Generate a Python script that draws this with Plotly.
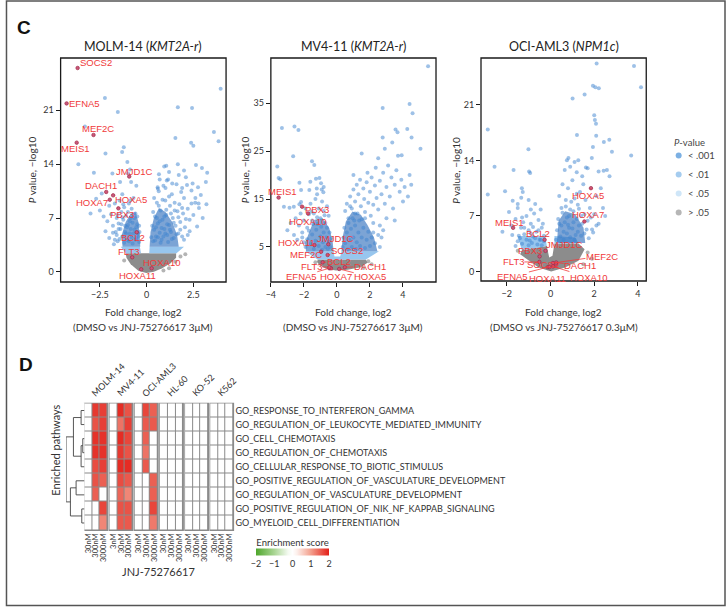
import plotly.graph_objects as go

W, H = 726, 607


def fx(p):
    return p / W


def fy(p):
    return 1 - p / H


# ---------------- C: volcano plots (log2 fold change, -log10 P) ----------------
GENES = ["SOCS2", "EFNA5", "MEF2C", "MEIS1", "JMJD1C", "DACH1", "HOXA5",
         "HOXA7", "PBX3", "BCL2", "FLT3", "HOXA10", "HOXA11"]

molm_gene_fc = [-3.69, -4.28, -2.84, -3.74, -0.93, -2.16, -1.79, -1.97, -1.51, -0.53, -0.77, 0.27, -0.29]
molm_gene_p = [26.5, 21.9, 17.8, 16.8, 12.4, 10.4, 9.96, 9.39, 8.27, 5.16, 1.91, 0.48, 0.35]
mv4_gene_fc = [-0.56, -0.46, -0.96, -3.53, -0.52, 0.48, 0.14, -0.36, -2.11, -0.86, -0.46, -1.75, -1.36]
mv4_gene_p = [3.33, 0.56, 4.0, 15.3, 5.56, 0.77, 0.42, 0.56, 13.4, 1.8, 0.77, 12.0, 5.4]
oci_gene_fc = [0.26, -0.12, 0.11, -1.71, -0.23, 0.26, 1.85, 1.55, -0.5, -0.27, -0.51, 0.11, -0.05]
oci_gene_p = [0.85, 0.55, 1.06, 5.5, 2.6, 1.13, 10.5, 6.3, 1.9, 4.0, 1.2, 0.63, 0.55]

# significant genes (fc, -log10 p)
molm_pts = [
    (3.96, 23.8), (-2.23, 22.6), (1.67, 21.4), (2.43, 21.3), (-1.54, 20.8), (-3.3, 18.9), (3.6, 18.2),
    (3.85, 17.0), (1.54, 17.4), (2.38, 16.8), (2.5, 16.4), (-1.22, 16.2), (-1.31, 15.6), (-2.2, 15.4),
    (-1.03, 14.3), (-3.65, 14.0), (-2.82, 12.9), (-1.83, 12.8), (-0.89, 13.3), (-0.99, 12.8), (-0.83, 11.7),
    (-0.55, 11.2), (-1.42, 11.7), (1.67, 14.0), (1.05, 13.8), (0.94, 13.7), (0.66, 12.7), (1.08, 11.9),
    (1.72, 12.6), (2.0, 13.2), (2.64, 13.9), (2.96, 13.5), (3.24, 12.9), (0.59, 11.0), (1.01, 10.9),
    (1.37, 11.5), (1.9, 10.9), (2.16, 11.3), (2.46, 11.5), (2.75, 11.0), (3.17, 11.7), (2.61, 9.6), (2.78, 8.9),
    (-2.5, 8.0), (-2.3, 7.2), (-2.1, 6.6), (-2.0, 8.6), (-1.9, 7.5), (-1.8, 6.0), (-1.7, 8.9), (-1.65, 5.2),
    (-1.6, 7.0), (-1.5, 6.3), (-1.45, 9.3), (-1.4, 5.6), (-1.35, 7.8), (-1.3, 4.6), (-1.25, 6.8), (-1.2, 8.4),
    (-1.15, 5.2), (-1.1, 7.3), (-1.05, 4.2), (-1.0, 6.1), (-0.95, 8.9), (-0.9, 5.0), (-0.85, 7.0), (-0.8, 4.5),
    (-0.75, 6.4), (-0.7, 9.6), (-0.65, 5.5), (-0.6, 7.6), (-0.55, 4.4), (-0.5, 6.2), (-0.45, 5.0), (-0.4, 3.9),
    (-2.7, 9.5), (-2.4, 10.2), (-3.0, 7.6), (-1.55, 4.0), (-1.75, 3.6), (-2.0, 4.4), (-2.2, 5.3), (-1.3, 10.1),
    (0.35, 4.0), (0.4, 5.5), (0.45, 7.2), (0.5, 4.6), (0.55, 9.0), (0.6, 6.3), (0.65, 10.5), (0.7, 5.1),
    (0.75, 8.0), (0.8, 4.2), (0.85, 6.8), (0.9, 11.2), (0.95, 5.6), (1.0, 9.3), (1.05, 7.4), (1.1, 4.8),
    (1.15, 12.0), (1.2, 6.1), (1.25, 8.6), (1.3, 5.2), (1.35, 10.1), (1.4, 7.0), (1.45, 4.4), (1.5, 9.0),
    (1.55, 6.0), (1.6, 11.4), (1.65, 7.9), (1.7, 5.0), (1.75, 8.8), (1.8, 6.5), (1.85, 10.4), (1.9, 4.6),
    (1.95, 7.6), (2.0, 9.6), (2.05, 5.8), (2.1, 12.3), (2.2, 8.2), (2.3, 6.8), (2.4, 10.6), (2.5, 7.4),
    (2.6, 9.0), (2.7, 5.9), (2.8, 8.3), (2.9, 10.0), (3.0, 7.0), (3.2, 8.8), (2.2, 4.8), (1.2, 13.0), (0.7, 12.0),
]
molm_dense = [
    (-1.7, 4.2), (-1.6, 4.8), (-1.5, 5.6), (-1.45, 4.3), (-1.35, 6.2), (-1.3, 7.1), (-1.2, 3.8), (-1.15, 6.0),
    (-1.1, 5.0), (-1.0, 7.8), (-0.95, 4.0), (-0.9, 6.6), (-0.85, 5.6), (-0.8, 8.2), (-0.75, 3.7), (-0.7, 5.0),
    (-0.65, 7.0), (-0.6, 4.2), (-0.55, 5.8), (-0.5, 7.2), (-0.45, 4.6), (-0.4, 6.0), (-0.38, 5.2), (-1.8, 5.1),
    (-1.55, 7.4), (-1.25, 8.8), (-0.88, 9.3), (-1.05, 5.8),
    (0.25, 4.5), (0.3, 6.0), (0.35, 7.8), (0.45, 4.1), (0.5, 5.8), (0.55, 7.0), (0.6, 4.5), (0.65, 8.6),
    (0.7, 6.6), (0.75, 3.8), (0.8, 5.7), (0.85, 9.4), (0.9, 4.6), (0.95, 7.2), (1.0, 5.0), (1.05, 8.1),
    (1.1, 6.2), (1.15, 3.9), (1.2, 9.8), (1.25, 5.5), (1.3, 7.6), (1.35, 4.3), (1.45, 6.4), (1.5, 8.0),
    (1.6, 4.9), (1.7, 7.1), (1.8, 5.5), (1.9, 8.3), (2.0, 4.2), (2.1, 6.9), (2.3, 5.3), (2.4, 8.9),
    (0.4, 9.6), (0.6, 10.8),
]
molm_ns = [(1.81, 2.0), (2.07, 2.3), (1.54, 1.34), (-1.2, 1.5), (1.2, 0.5), (0.9, 0.2)]

mv4_pts = [
    (5.52, 42.7), (2.77, 34.0), (4.40, 34.8), (4.58, 32.9), (3.55, 29.5), (3.67, 28.9), (4.26, 29.6),
    (4.52, 27.8), (2.77, 27.8), (3.35, 26.8), (5.06, 25.5), (3.92, 24.1), (-3.33, 29.8), (-2.57, 30.1),
    (-2.33, 29.4), (-1.51, 22.9), (-1.37, 22.1), (-3.61, 21.8), (-2.65, 23.9), (-3.53, 19.4), (-3.43, 19.1),
    (-2.27, 18.4), (-1.61, 18.6), (-1.27, 19.2), (-1.06, 19.4), (-0.96, 18.3), (-1.22, 17.2), (-0.92, 17.0),
    (-0.82, 16.4), (-2.17, 16.9), (-1.67, 16.9), (-3.21, 13.4), (-2.87, 13.2), (-2.61, 13.4), (-2.27, 13.9),
    (-2.17, 14.4),
    (0.5, 12.5), (0.6, 14.0), (0.7, 11.0), (0.8, 15.5), (0.9, 13.0), (1.0, 17.0), (1.05, 10.5), (1.1, 14.5),
    (1.2, 18.0), (1.25, 12.0), (1.3, 16.0), (1.4, 19.0), (1.45, 13.5), (1.5, 10.8), (1.6, 17.2), (1.65, 15.0),
    (1.7, 12.3), (1.8, 18.5), (1.85, 20.5), (1.9, 14.2), (2.0, 16.5), (2.05, 11.5), (2.1, 19.5), (2.2, 13.8),
    (2.3, 17.8), (2.35, 21.5), (2.4, 15.2), (2.5, 12.8), (2.6, 18.8), (2.7, 16.0), (2.8, 20.5), (2.9, 14.0),
    (3.0, 17.5), (3.1, 22.0), (3.2, 15.5), (3.3, 19.5), (3.4, 13.0), (3.5, 18.0), (3.6, 21.0), (3.8, 16.5),
    (3.9, 19.0), (4.0, 14.5), (4.1, 17.5), (4.3, 15.5), (4.4, 20.0), (4.5, 18.0), (2.6, 9.5), (3.0, 11.0),
    (3.5, 10.5), (2.2, 8.0), (2.7, 7.0), (1.5, 24.5), (2.5, 23.5), (3.7, 24.0), (1.0, 20.0), (2.9, 25.5),
    (-0.5, 11.5), (-0.6, 13.5), (-0.7, 10.0), (-0.8, 12.5), (-0.9, 14.5), (-1.0, 11.0), (-1.1, 13.0),
    (-1.2, 9.8), (-1.3, 15.0), (-1.4, 12.0), (-1.5, 10.5), (-1.6, 14.0), (-1.7, 11.8), (-1.8, 9.0),
    (-1.9, 13.0), (-2.0, 10.5), (-2.1, 8.0), (-2.2, 12.0), (-2.3, 9.5), (-2.5, 11.0), (-2.6, 7.5),
    (-2.8, 10.0), (-3.0, 8.5), (-2.4, 6.5), (-2.0, 6.0), (-1.2, 16.0), (-0.8, 17.5),
]
mv4_dense = [
    (-1.9, 5.0), (-1.8, 6.6), (-1.7, 8.4), (-1.6, 5.6), (-1.5, 7.6), (-1.45, 9.8), (-1.4, 4.6), (-1.3, 6.3),
    (-1.25, 8.6), (-1.2, 11.2), (-1.1, 5.2), (-1.0, 7.2), (-0.95, 9.2), (-0.9, 4.4), (-0.85, 6.0), (-0.8, 8.0),
    (-0.7, 5.0), (-0.65, 7.0), (-0.6, 9.0), (-0.55, 4.6), (-0.5, 6.2), (-0.45, 8.0), (-0.4, 5.0), (-0.35, 6.8),
    (-2.1, 7.0), (-1.55, 12.4), (-0.75, 11.6),
    (0.35, 5.0), (0.4, 7.0), (0.45, 9.0), (0.5, 5.8), (0.6, 8.0), (0.65, 4.5), (0.7, 10.0), (0.75, 6.5),
    (0.85, 8.8), (0.9, 5.0), (0.95, 11.0), (1.0, 7.0), (1.1, 9.5), (1.15, 4.6), (1.2, 6.0), (1.3, 8.0),
    (1.35, 10.5), (1.4, 5.2), (1.5, 7.0), (1.6, 9.0), (1.7, 4.8), (1.8, 6.5), (1.9, 8.2), (2.0, 5.2),
    (2.1, 7.0), (2.2, 10.0), (2.3, 5.8), (2.5, 7.5), (2.6, 5.0), (2.8, 8.5), (1.1, 12.0), (0.8, 13.5),
    (1.7, 11.0),
]
mv4_ns = [(1.9, 2.0), (2.1, 1.4), (-1.3, 1.8), (1.6, 0.6)]

oci_pts = [
    (2.11, 26.2), (3.82, 25.9), (4.14, 23.2), (1.94, 23.4), (2.05, 23.2), (2.21, 23.1), (1.01, 21.8),
    (1.56, 22.3), (2.0, 19.7), (2.03, 19.1), (2.08, 18.6), (-2.87, 17.9), (1.21, 17.2), (2.09, 17.1),
    (1.94, 15.7), (2.81, 15.1), (3.69, 14.6), (2.44, 16.3), (2.69, 16.6), (-1.01, 15.4), (-0.98, 12.6),
    (-0.93, 12.4), (-2.56, 13.2), (0.82, 14.3), (1.27, 14.0), (1.89, 14.3), (1.62, 13.1), (2.2, 12.6),
    (2.43, 12.7), (2.58, 12.8), (2.70, 12.0), (-2.87, 9.7), (-2.08, 10.1), (-1.31, 10.5), (-1.27, 10.0),
    (-1.69, 12.8), (-1.73, 8.9), (-1.5, 8.5), (-1.34, 9.3),
    (0.4, 6.0), (0.5, 8.0), (0.6, 5.0), (0.7, 9.0), (0.75, 6.8), (0.8, 10.5), (0.85, 5.5), (0.9, 7.8),
    (1.0, 11.5), (1.05, 6.2), (1.1, 9.2), (1.15, 4.6), (1.2, 12.5), (1.25, 8.4), (1.3, 5.8), (1.35, 10.0),
    (1.4, 7.0), (1.5, 11.0), (1.55, 4.8), (1.6, 9.0), (1.7, 6.4), (1.8, 8.0), (1.9, 5.3), (2.0, 7.2),
    (2.1, 9.5), (2.2, 6.0), (2.3, 10.5), (2.4, 8.0), (2.5, 7.0), (0.55, 11.0), (0.65, 12.8), (0.9, 13.2),
    (1.1, 13.8), (0.75, 14.0), (1.45, 12.0), (1.7, 13.0),
    (-0.3, 4.5), (-0.4, 5.5), (-0.5, 4.0), (-0.55, 6.5), (-0.65, 5.0), (-0.75, 7.3), (-0.8, 4.4),
    (-0.9, 6.0), (-1.0, 5.2), (-1.1, 7.0), (-1.2, 4.7), (-1.25, 6.2), (-1.35, 5.5), (-1.45, 4.5),
    (-1.5, 8.0), (-0.7, 8.5), (-1.0, 9.0), (-0.45, 7.8), (-1.6, 6.6), (-1.9, 7.5), (-1.75, 4.6),
    (-2.2, 5.0), (-0.95, 3.9),
]
oci_dense = [
    (-1.6, 3.2), (-1.5, 3.8), (-1.4, 4.2), (-1.3, 3.5), (-1.2, 5.5), (-1.1, 4.0), (-1.0, 3.3), (-0.9, 4.8),
    (-0.85, 3.6), (-0.8, 5.6), (-0.7, 4.2), (-0.6, 3.4), (-0.55, 5.2), (-0.45, 4.0), (-0.4, 3.3), (-0.35, 6.0),
    (-0.3, 3.8), (-1.3, 6.8), (-0.9, 7.8), (-1.8, 5.8),
    (0.25, 4.0), (0.3, 5.2), (0.35, 6.6), (0.45, 4.4), (0.5, 5.8), (0.55, 7.4), (0.6, 4.0), (0.65, 6.2),
    (0.7, 8.2), (0.75, 4.8), (0.8, 5.9), (0.85, 7.0), (0.9, 4.3), (0.95, 8.8), (1.0, 5.4), (1.05, 7.6),
    (1.1, 4.0), (1.2, 6.6), (1.25, 5.0), (1.3, 7.9), (1.4, 4.5), (1.45, 6.0), (1.55, 7.2), (1.65, 5.3),
    (1.75, 4.2), (1.85, 6.8), (1.95, 4.9), (2.1, 5.8), (0.4, 9.5), (1.2, 9.8),
]
oci_ns = [(1.7, 2.4), (1.9, 1.6), (-1.5, 2.6), (1.5, 0.9)]

# density envelopes of the thousands of overlapping genes
molm_gray = [[(-1.12, 2.42), (1.58, 2.42), (1.58, 1.86), (1.28, 1.13), (0.83, 0.48), (0.39, 0.04),
              (-0.02, -0.13), (-0.44, 0.17), (-0.85, 1.0), (-1.08, 1.86)]]
molm_band = [[(-1.38, 3.29), (-0.36, 3.29), (-0.3, 2.42), (-1.12, 2.42)],
             [(0.16, 3.29), (2.0, 3.29), (1.6, 2.42), (0.14, 2.42)]]
molm_core = [[(-1.29, 3.29), (-0.34, 3.29), (-0.37, 4.8), (-0.44, 6.5), (-0.59, 7.8), (-0.85, 7.6),
              (-1.12, 6.5), (-1.33, 4.8)],
             [(0.16, 3.29), (1.72, 3.29), (1.63, 4.8), (1.37, 6.5), (1.01, 7.8), (0.66, 8.3), (0.39, 7.0),
              (0.21, 5.2)]]
mv4_gray = [[(-1.16, 2.38), (1.75, 2.38), (1.85, 1.69), (1.45, 0.79), (0.64, 0.24), (-0.06, 0.1),
             (-0.66, 0.45), (-1.06, 1.2), (-1.2, 1.9)]]
mv4_band = [[(-1.93, 4.1), (-0.2, 4.1), (-0.15, 3.0), (0.2, 3.0), (0.28, 4.1), (2.55, 4.1), (1.75, 2.38),
             (-1.16, 2.38)]]
mv4_core = [[(-1.87, 4.1), (-0.2, 4.1), (-0.26, 6.2), (-0.46, 8.9), (-0.86, 11.0), (-1.37, 10.7),
             (-1.67, 8.2), (-1.93, 5.8)],
            [(0.28, 4.1), (2.45, 4.1), (2.25, 6.9), (1.85, 9.6), (1.45, 11.7), (0.94, 12.4), (0.54, 10.3),
             (0.34, 6.9)]]
oci_gray = [[(-1.39, 2.18), (-1.31, 2.68), (-0.85, 2.93), (-0.17, 3.22), (-0.06, 1.76), (0.09, 1.97),
             (0.18, 3.51), (1.28, 3.51), (1.56, 2.8), (1.28, 1.34), (0.67, 0.5), (0.03, 0.0), (-0.55, 0.5),
             (-1.08, 1.55)]]
oci_band = [[(-1.5, 4.48), (-0.24, 4.48), (-0.17, 3.22), (-1.31, 2.68)],
            [(0.18, 4.48), (1.13, 4.27), (1.28, 3.51), (0.18, 3.51)]]
oci_core = [[(0.29, 3.6), (1.59, 3.6), (1.51, 5.5), (1.13, 7.2), (0.67, 7.6), (0.37, 6.4)]]

P_LEVELS = ["< .001", "< .01", "< .05", "> .05"]

# ---------------- D: pathway enrichment heatmap ----------------
pathways = [
    "GO_RESPONSE_TO_INTERFERON_GAMMA",
    "GO_REGULATION_OF_LEUKOCYTE_MEDIATED_IMMUNITY",
    "GO_CELL_CHEMOTAXIS",
    "GO_REGULATION_OF_CHEMOTAXIS",
    "GO_CELLULAR_RESPONSE_TO_BIOTIC_STIMULUS",
    "GO_POSITIVE_REGULATION_OF_VASCULATURE_DEVELOPMENT",
    "GO_REGULATION_OF_VASCULATURE_DEVELOPMENT",
    "GO_POSITIVE_REGULATION_OF_NIK_NF_KAPPAB_SIGNALING",
    "GO_MYELOID_CELL_DIFFERENTIATION",
]
cell_lines = ["MOLM-14", "MV4-11", "OCI-AML3", "HL-60", "KO-52", "K562"]
doses = [["30nM", "300nM", "3000nM"], ["3nM", "30nM", "300nM"], ["30nM", "300nM", "3000nM"],
         ["30nM", "300nM", "3000nM"], ["30nM", "300nM", "3000nM"], ["30nM", "300nM", "3000nM"]]
score_molm14 = [[0, 1.8, 1.75], [0, 1.6, 1.75], [0, 1.85, 1.85], [0, 1.85, 1.85], [0, 1.65, 1.75],
                [0, 1.6, 1.5], [0, 1.5, 0], [0, 0, 1.7], [0, 0, 1.2]]
score_mv411 = [[0, 1.9, 1.6], [0, 1.35, 1.75], [0, 1.9, 1.7], [0, 1.8, 1.6], [0, 1.9, 1.9],
               [0, 1.65, 1.55], [0, 1.45, 1.2], [0, 1.6, 1.6], [0, 1.55, 1.55]]
score_ociaml3 = [[0, 1.7, 1.5], [0, 1.55, 1.55], [0, 1.5, 0], [0, 1.35, 0], [0, 1.55, 0],
                 [0, 0, 1.5], [0, 0, 1.5], [0, 0, 1.7], [0, 0, 1.3]]
score_hl60 = [[0, 0, 0]] * 9
score_ko52 = [[0, 0, 0]] * 9
score_k562 = [[0, 0, 0]] * 9
scores = [score_molm14, score_mv411, score_ociaml3, score_hl60, score_ko52, score_k562]

# row dendrogram: (child a, child b, height); leaves 0-8, merges numbered from 9
dendro_merges = [(0, 1, 1.0), (2, 3, 0.5), (10, 4, 1.0), (9, 11, 3.3),
                 (5, 6, 2.5), (7, 8, 0.8), (13, 14, 4.2), (12, 15, 5.5)]

# ---------------- styling ----------------
FONT = "Lato, 'Open Sans', sans-serif"
TXT = "#333333"
RED = "#f03a3a"
PT_BLUE = "rgba(62,132,208,0.5)"
CORE_BLUE = "rgba(44,108,188,0.62)"
BAND_BLUE = "#97c6ee"
GRAY = "#8c8c8c"
LEGEND_COLORS = ["#7cb0e3", "#a5ccef", "#cfe6f8", "#b6b6b6"]
GENE_MARK = "#c9587a"

fig = go.Figure()


def ax_name(n, kind):
    return f"{kind}axis" if n == 1 else f"{kind}axis{n}"


def ref(n, kind):
    return kind if n == 1 else f"{kind}{n}"


def polys(parts):
    xs, ys = [], []
    for part in parts:
        xs += [p[0] for p in part] + [part[0][0], None]
        ys += [p[1] for p in part] + [part[0][1], None]
    return xs, ys


def paper_text(xp, yp, text, size, color=TXT, **kw):
    d = dict(x=fx(xp), y=fy(yp), xref="paper", yref="paper", text=text, showarrow=False,
             xanchor="center", yanchor="middle", font=dict(size=size, color=color))
    d.update(kw)
    return d


panels = [
    dict(title="MOLM-14 (<i>KMT2A-r</i>)", dose="3μM", box=(56, 58, 222.6, 282),
         xr=[-4.6, 4.25], yr=[-1.3, 27.8], xt=[-2.5, 0, 2.5], yt=[0, 7, 14, 21], ytx=27.5,
         pts=molm_pts + molm_dense, ns=molm_ns, gray=molm_gray, band=molm_band, core=molm_core,
         gfc=molm_gene_fc, gp=molm_gene_p, arrows=False,
         off={"SOCS2": (18, -6), "EFNA5": (18, 0), "MEF2C": (4, -6), "MEIS1": (-1, 6),
              "JMJD1C": (5, -5), "DACH1": (-5, -6), "HOXA5": (18, 4), "HOXA7": (-18, 3),
              "PBX3": (4, 6), "BCL2": (-4, 5), "FLT3": (-4, -6), "HOXA10": (10, -6),
              "HOXA11": (-4, 6)}),
    dict(title="MV4-11 (<i>KMT2A-r</i>)", dose="3μM", box=(267.7, 58, 434, 282),
         xr=[-4.0, 6.0], yr=[-2.3, 44.4], xt=[-4, -2, 0, 2, 4], yt=[5, 15, 25, 35], ytx=242,
         pts=mv4_pts + mv4_dense, ns=mv4_ns, gray=mv4_gray, band=mv4_band, core=mv4_core,
         gfc=mv4_gene_fc, gp=mv4_gene_p, arrows=True,
         off={"SOCS2": (19, -5), "EFNA5": (-28, 8), "MEF2C": (-15, 3), "MEIS1": (4, -6),
              "JMJD1C": (7, -6), "DACH1": (25, -1), "HOXA5": (31, 8), "HOXA7": (5, 8),
              "PBX3": (15, 3), "BCL2": (16, -1), "FLT3": (-18, -1), "HOXA10": (0, 8),
              "HOXA11": (-18, -3)}),
    dict(title="OCI-AML3 (<i>NPM1c</i>)", dose="0.3μM", box=(479.3, 58, 645.7, 281),
         xr=[-3.18, 4.38], yr=[-1.2, 26.9], xt=[-2, 0, 2, 4], yt=[0, 7, 14, 21], ytx=454,
         pts=oci_pts + oci_dense, ns=oci_ns, gray=oci_gray, band=oci_band, core=oci_core,
         gfc=oci_gene_fc, gp=oci_gene_p, arrows=True,
         off={"SOCS2": (-13, 0), "EFNA5": (-35, 9), "MEF2C": (49, -7), "MEIS1": (-4, -5),
              "JMJD1C": (19, -6), "DACH1": (24, 3), "HOXA5": (-3, 7), "HOXA7": (4, -7),
              "PBX3": (-10, -6), "BCL2": (-7, -6), "FLT3": (-26, 0), "HOXA10": (36, 11),
              "HOXA11": (-2, 11)}),
]

annotations = []
shapes = []
axis_common = dict(showline=False, ticks="outside", ticklen=4, tickwidth=1, tickcolor="#1a1a1a",
                   showgrid=False, zeroline=False, tickfont=dict(size=9, color=TXT))

for i, pn in enumerate(panels, start=1):
    xr_, yr_ = ref(i, "x"), ref(i, "y")
    l, t, r, b = pn["box"]
    fig.update_layout(**{
        ax_name(i, "x"): dict(domain=[fx(l), fx(r)], range=pn["xr"], tickvals=pn["xt"], anchor=yr_,
                              **axis_common),
        ax_name(i, "y"): dict(domain=[fy(b), fy(t)], range=pn["yr"], tickvals=pn["yt"], anchor=xr_,
                              **axis_common),
    })
    for parts, color in [(pn["gray"], GRAY), (pn["band"], BAND_BLUE), (pn["core"], CORE_BLUE)]:
        px_, py_ = polys(parts)
        fig.add_trace(go.Scatter(x=px_, y=py_, mode="lines", fill="toself", fillcolor=color,
                                 line=dict(width=0), hoverinfo="skip", showlegend=False,
                                 xaxis=xr_, yaxis=yr_))
    fig.add_trace(go.Scatter(x=[p[0] for p in pn["ns"]], y=[p[1] for p in pn["ns"]], mode="markers",
                             marker=dict(size=4, color="rgba(130,130,130,0.6)"), showlegend=False,
                             xaxis=xr_, yaxis=yr_))
    fig.add_trace(go.Scatter(x=[p[0] for p in pn["pts"]], y=[p[1] for p in pn["pts"]], mode="markers",
                             marker=dict(size=4, color=PT_BLUE), showlegend=False,
                             xaxis=xr_, yaxis=yr_))
    fig.add_trace(go.Scatter(x=pn["gfc"], y=pn["gp"], mode="markers", text=GENES,
                             marker=dict(size=3.5, color=GENE_MARK, line=dict(color="#a02848", width=0.7)),
                             showlegend=False, xaxis=xr_, yaxis=yr_))
    # plot frame
    shapes.append(dict(type="rect", xref=f"{xr_} domain", yref=f"{yr_} domain", x0=0, x1=1, y0=0, y1=1,
                       line=dict(color="#1a1a1a", width=1.3), layer="above"))
    for g, gx, gy in zip(GENES, pn["gfc"], pn["gp"]):
        dx, dy = pn["off"][g]
        annotations.append(dict(
            x=gx, y=gy, xref=xr_, yref=yr_, text=g, showarrow=True, ax=dx, ay=dy,
            arrowhead=0, arrowwidth=0.8, standoff=0, borderpad=0,
            arrowcolor=RED if pn["arrows"] else "rgba(0,0,0,0)",
            font=dict(family="Liberation Sans, Arial", size=9.5, color=RED)))
    cx = (l + r) / 2
    annotations += [
        paper_text(cx, 46, pn["title"], 12.5, "#222"),
        paper_text(cx, 312, "Fold change, log2", 10),
        paper_text(cx, 327, f"(DMSO vs JNJ-75276617 {pn['dose']})", 10),
        paper_text(pn["ytx"], 170, "<i>P</i> value, −log10", 10, textangle=-90),
    ]

# manual P-value legend
fig.add_trace(go.Scatter(x=[0] * len(P_LEVELS), y=list(range(len(P_LEVELS))), mode="markers",
                         marker=dict(size=6, color=LEGEND_COLORS), showlegend=False,
                         xaxis="x6", yaxis="y6", hoverinfo="skip"))
fig.update_layout(
    xaxis6=dict(domain=[fx(670), fx(720)], range=[-0.2, 1], visible=False, anchor="y6"),
    yaxis6=dict(domain=[fy(222), fy(146)], range=[3.5, -0.5], visible=False, anchor="x6"),
)
for k, lab in enumerate(P_LEVELS):
    annotations.append(dict(x=0.18, y=k, xref="x6", yref="y6", text=lab, showarrow=False,
                            xanchor="left", yanchor="middle", font=dict(size=9.5, color="#444")))
annotations.append(paper_text(689, 142, "<i>P</i>-value", 9.5, "#444"))

# ---------------- heatmap ----------------
GSTEP = 3.25
for g, (line, zs) in enumerate(zip(cell_lines, scores)):
    fig.add_trace(go.Heatmap(
        x=[g * GSTEP + c for c in range(3)], y=list(range(len(pathways))), z=zs,
        coloraxis="coloraxis", xgap=1, ygap=1, xaxis="x4", yaxis="y4", hoverinfo="skip"))
    shapes.append(dict(type="rect", xref="x4", yref="y4", x0=g * GSTEP - 0.6, x1=g * GSTEP + 2.6,
                       y0=-0.57, y1=len(pathways) - 0.43, fillcolor="#8a8a8a", line=dict(width=0),
                       layer="below"))
    annotations.append(dict(x=g * GSTEP - 0.2, y=1.01, xref="x4", yref="y4 domain", text=line,
                            textangle=-45, xanchor="left", yanchor="bottom", showarrow=False,
                            font=dict(size=9, color=TXT)))

tickvals = [g * GSTEP + c for g in range(len(cell_lines)) for c in range(3)]
ticktext = [d for ds in doses for d in ds]
fig.update_layout(
    xaxis4=dict(domain=[fx(79), fx(231)], range=[-0.62, (len(cell_lines) - 1) * GSTEP + 2.62],
                tickvals=tickvals, ticktext=ticktext, tickangle=-90, ticks="", showgrid=False,
                zeroline=False, showline=False, tickfont=dict(size=7.5, color=TXT), anchor="y4"),
    yaxis4=dict(domain=[fy(531), fy(402.5)], range=[len(pathways) - 0.43, -0.57],
                tickvals=list(range(len(pathways))), ticktext=pathways, side="right", ticks="",
                showgrid=False, zeroline=False, showline=False, tickfont=dict(size=9, color=TXT),
                anchor="x4"),
    coloraxis=dict(
        cmin=-2, cmax=2,
        colorscale=[[0, "#4ea62b"], [0.25, "#a9d593"], [0.44, "#f4faf1"], [0.5, "#ffffff"],
                    [0.56, "#fdf0ec"], [0.75, "#f3a08e"], [1, "#e31f18"]],
        colorbar=dict(orientation="h", x=fx(289.5), xanchor="center", y=fy(552), yanchor="middle",
                      len=73, lenmode="pixels", thickness=7, xpad=0, ypad=0, outlinewidth=0,
                      tickvals=[-2, -1, 0, 1, 2], ticktext=["−2", "−1", "0", "1", "2"],
                      tickfont=dict(size=9, color=TXT), ticks="",
                      title=dict(text="Enrichment score", side="top", font=dict(size=9.5, color=TXT))),
    ),
)

# row dendrogram
pos = {i: float(i) for i in range(len(pathways))}
hgt = {i: 0.0 for i in range(len(pathways))}
dx_, dy_ = [], []
for k, (a, b, h) in enumerate(dendro_merges):
    node = len(pathways) + k
    dx_ += [hgt[a], h, h, hgt[b], None]
    dy_ += [pos[a], pos[a], pos[b], pos[b], None]
    pos[node] = (pos[a] + pos[b]) / 2
    hgt[node] = h
fig.add_trace(go.Scatter(x=dx_, y=dy_, mode="lines", line=dict(color="#444", width=0.9),
                         showlegend=False, hoverinfo="skip", xaxis="x5", yaxis="y5"))
fig.update_layout(
    xaxis5=dict(domain=[fx(61.5), fx(80)], range=[max(hgt.values()), 0], visible=False, anchor="y5"),
    yaxis5=dict(domain=[fy(531), fy(402.5)], range=[len(pathways) - 0.43, -0.57], visible=False,
                anchor="x5"),
)

annotations += [
    paper_text(50, 450, "Enriched pathways", 11, textangle=-90),
    paper_text(155, 571, "JNJ-75276617", 11),
    paper_text(19, 27, "<b>C</b>", 19, font=dict(family="Liberation Sans, Arial", size=19, color="#111")),
    paper_text(21, 364, "<b>D</b>", 19, font=dict(family="Liberation Sans, Arial", size=19, color="#111")),
]

shapes.append(dict(type="rect", xref="paper", yref="paper", x0=fx(1.5), x1=fx(725), y0=fy(605.5), y1=fy(1),
                   line=dict(color="#555", width=1.5), layer="above"))

fig.update_layout(
    width=W, height=H, margin=dict(l=0, r=0, t=0, b=0),
    paper_bgcolor="white", plot_bgcolor="white",
    font=dict(family=FONT, color=TXT),
    showlegend=False, annotations=annotations, shapes=shapes,
)

# the page's default body margin would shift the figure by 8px
fig.write_html("out.html", config={"displayModeBar": False},
               post_script="document.body.style.margin = '0';")
